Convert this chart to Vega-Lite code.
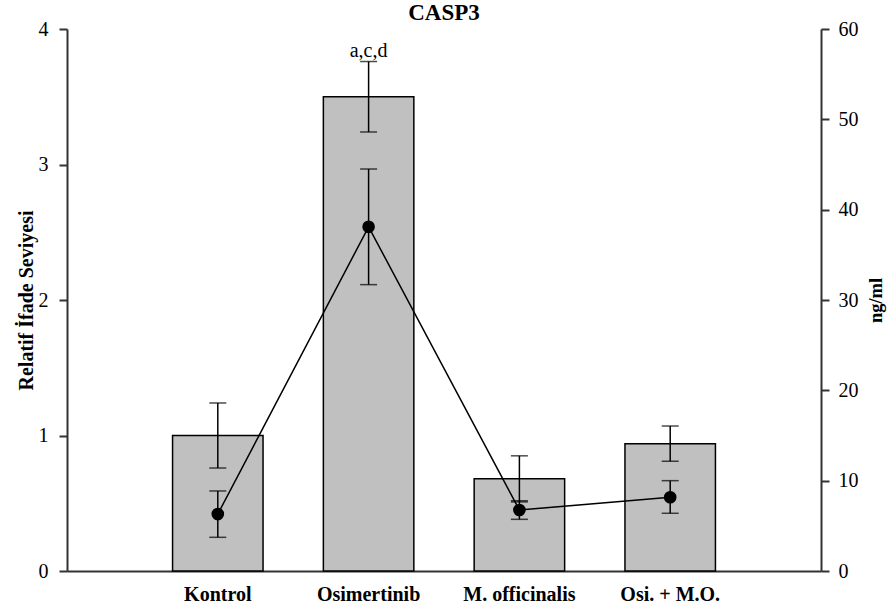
{
  "$schema": "https://vega.github.io/schema/vega-lite/v6.json",
  "autosize": {"type": "none"},
  "padding": {"left": 67, "top": 29, "right": 70, "bottom": 44},
  "width": 754,
  "height": 542,
  "title": {"text": "CASP3", "font": "Liberation Serif", "fontSize": 23, "fontWeight": "bold", "color": "#000", "frame": "group", "offset": -6, "anchor": "middle"},
  "data": {"values": [
    {"g": "Kontrol", "expr": 1.0, "expr_lo": 0.76, "expr_hi": 1.24, "ng": 6.3, "ng_lo": 3.73, "ng_hi": 8.86, "lab": ""},
    {"g": "Osimertinib", "expr": 3.5, "expr_lo": 3.24, "expr_hi": 3.76, "ng": 38.1, "ng_lo": 31.7, "ng_hi": 44.5, "lab": "a,c,d"},
    {"g": "M. officinalis", "expr": 0.68, "expr_lo": 0.51, "expr_hi": 0.85, "ng": 6.75, "ng_lo": 5.72, "ng_hi": 7.78, "lab": ""},
    {"g": "Osi. + M.O.", "expr": 0.94, "expr_lo": 0.81, "expr_hi": 1.07, "ng": 8.16, "ng_lo": 6.39, "ng_hi": 10.0, "lab": ""}
  ]},
  "encoding": {
    "x": {"field": "g", "type": "nominal", "sort": null,
      "scale": {"paddingInner": 0.4, "paddingOuter": 0.7},
      "axis": {"title": null, "labelAngle": 0, "ticks": false, "labelPadding": 13, "labelFont": "Liberation Serif", "labelFontSize": 20, "labelFontWeight": "bold", "labelColor": "#000", "domainColor": "#333", "domainWidth": 2}}
  },
  "layer": [
    {
      "layer": [
        {"mark": {"type": "bar", "fill": "#c0c0c0", "stroke": "#000", "strokeWidth": 1.5},
          "encoding": {"y": {"field": "expr", "type": "quantitative", "scale": {"domain": [0, 4]},
            "axis": {"title": "Relatif İfade Seviyesi", "values": [0, 1, 2, 3, 4], "format": "d", "grid": false, "tickSize": 8, "tickWidth": 2, "tickColor": "#333", "domainColor": "#333", "domainWidth": 2, "labelPadding": 11, "labelFont": "Liberation Serif", "labelFontSize": 20, "labelColor": "#000", "titleFont": "Liberation Serif", "titleFontSize": 20, "titleFontWeight": "bold", "titleColor": "#000", "titlePadding": 2}}}},
        {"mark": {"type": "rule", "color": "#000", "strokeWidth": 1.5},
          "encoding": {"y": {"field": "expr_lo", "type": "quantitative"}, "y2": {"field": "expr_hi"}}},
        {"mark": {"type": "tick", "orient": "horizontal", "size": 17, "thickness": 1.5, "color": "#000"},
          "encoding": {"y": {"field": "expr_lo", "type": "quantitative"}}},
        {"mark": {"type": "tick", "orient": "horizontal", "size": 17, "thickness": 1.5, "color": "#000"},
          "encoding": {"y": {"field": "expr_hi", "type": "quantitative"}}},
        {"mark": {"type": "text", "font": "Liberation Serif", "fontSize": 20, "color": "#000", "baseline": "alphabetic", "dy": -5},
          "encoding": {"y": {"field": "expr_hi", "type": "quantitative"}, "text": {"field": "lab"}}}
      ]
    },
    {
      "layer": [
        {"mark": {"type": "line", "color": "#000", "strokeWidth": 1.5},
          "encoding": {"y": {"field": "ng", "type": "quantitative", "scale": {"domain": [0, 60]},
            "axis": {"orient": "right", "title": "ng/ml", "titleAngle": 270, "titleBaseline": "top", "values": [0, 10, 20, 30, 40, 50, 60], "grid": false, "tickSize": 8, "tickWidth": 2, "tickColor": "#333", "domainColor": "#333", "domainWidth": 2, "labelPadding": 9, "labelFont": "Liberation Serif", "labelFontSize": 20, "labelColor": "#000", "titleFont": "Liberation Serif", "titleFontSize": 18.5, "titleFontWeight": "bold", "titleColor": "#000", "titlePadding": 8}}}},
        {"mark": {"type": "rule", "color": "#000", "strokeWidth": 1.5},
          "encoding": {"y": {"field": "ng_lo", "type": "quantitative"}, "y2": {"field": "ng_hi"}}},
        {"mark": {"type": "tick", "orient": "horizontal", "size": 17, "thickness": 1.5, "color": "#000"},
          "encoding": {"y": {"field": "ng_lo", "type": "quantitative"}}},
        {"mark": {"type": "tick", "orient": "horizontal", "size": 17, "thickness": 1.5, "color": "#000"},
          "encoding": {"y": {"field": "ng_hi", "type": "quantitative"}}},
        {"mark": {"type": "circle", "size": 160, "color": "#000", "opacity": 1},
          "encoding": {"y": {"field": "ng", "type": "quantitative"}}}
      ]
    }
  ],
  "resolve": {"scale": {"y": "independent"}},
  "config": {"view": {"stroke": null}, "background": "#ffffff"}
}
